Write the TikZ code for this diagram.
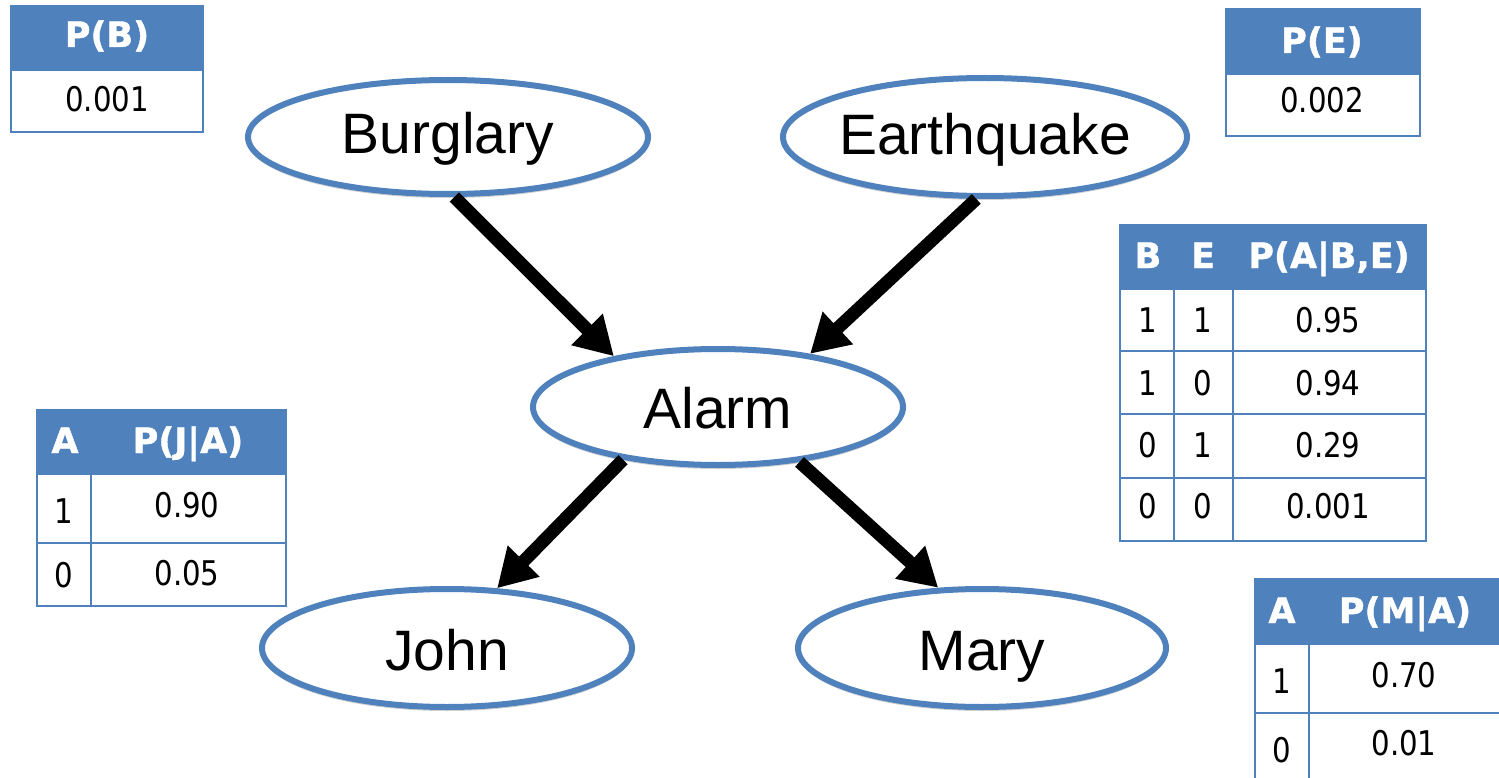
\documentclass[tikz,border=0pt]{standalone}
\usepackage{fontspec}
\setmainfont{Liberation Sans}
\newfontfamily\tabfont[FakeStretch=0.86,BoldFeatures={FakeStretch=1.0,FakeBold=1.2}]{DejaVu Sans}
\usetikzlibrary{arrows.meta,shapes.geometric,shadows}
\definecolor{obl}{HTML}{4F81BD}
\tikzset{
  bnode/.style={ellipse,draw=obl,line width=6pt,fill=white,inner sep=0pt,
    drop shadow={shadow xshift=0pt,shadow yshift=-4pt,opacity=0.18,fill=black}},
  blabel/.style={font=\fontsize{57}{60}\selectfont,inner sep=0pt,anchor=base},
  arr/.style={line width=13pt,-{Triangle[length=38pt,width=42pt]}},
  tabline/.style={draw=obl,line width=2.5pt},
  hdrfill/.style={fill=obl},
  hdr/.style={anchor=base,inner sep=0pt,text=white,font=\tabfont\bfseries\fontsize{35}{38}\selectfont},
  cell/.style={anchor=base,inner sep=0pt,text=black,font=\tabfont\fontsize{34}{40}\selectfont}
}
\begin{document}
\begin{tikzpicture}[x=1pt,y=-1pt]
\useasboundingbox[fill=white] (0,0) rectangle (1499,778);
\clip (0,0) rectangle (1499,778);

% ---------- nodes ----------
\node[bnode,minimum width=400pt,minimum height=114pt] (burg) at (448,137) {};
\node[blabel] (burgT) at (448,154) {Burglary};
\node[bnode,minimum width=404pt,minimum height=118pt] (earth) at (985,137) {};
\node[blabel] (earthT) at (985,155) {Earthquake};
\node[bnode,minimum width=370pt,minimum height=116pt] (alarm) at (718,407) {};
\node[blabel] (alarmT) at (718,428) {Alarm};
\node[bnode,minimum width=370pt,minimum height=118pt] (john) at (447,648) {};
\node[blabel] (johnT) at (447,670) {John};
\node[bnode,minimum width=368pt,minimum height=118pt] (mary) at (982,648) {};
\node[blabel] (maryT) at (982,670) {Mary};

% ---------- arrows ----------
\draw[arr] (burg.-84) -- (alarm.154);
\draw[arr] (earth.-98) -- (alarm.30);
\draw[arr] (alarm.209) -- (john.50);
\draw[arr] (alarm.-34) -- (mary.126);

% ---------- P(B) ----------
\fill[hdrfill] (11,6) rectangle (203,70);
\draw[tabline] (11,6) rectangle (203,132);
\draw[tabline] (11,70) -- (203,70);
\node[hdr] (pbH) at (107,47) {P(B)};
\node[cell] (pbV) at (107,112) {0.001};

% ---------- P(E) ----------
\fill[hdrfill] (1226,9) rectangle (1420,74);
\draw[tabline] (1226,9) rectangle (1420,136);
\draw[tabline] (1226,74) -- (1420,74);
\node[hdr] (peH) at (1322,53) {P(E)};
\node[cell] (peV) at (1322,113) {0.002};

% ---------- P(A|B,E) ----------
\fill[hdrfill] (1120,225) rectangle (1426,289);
\draw[tabline] (1120,225) rectangle (1426,541);
\foreach \yy in {289,351,414,478} \draw[tabline] (1120,\yy) -- (1426,\yy);
\draw[tabline] (1174,289) -- (1174,541);
\draw[tabline] (1233,289) -- (1233,541);
\node[hdr] (paH1) at (1148,268) {B};
\node[hdr] (paH2) at (1203,268) {E};
\node[hdr] (paH3) at (1329,268) {P(A|B,E)};
\node[cell] (pa11) at (1148,332) {1};
\node[cell] (pa12) at (1203,332) {1};
\node[cell] (pa13) at (1328,332) {0.95};
\node[cell] (pa21) at (1148,395) {1};
\node[cell] (pa22) at (1203,395) {0};
\node[cell] (pa23) at (1328,395) {0.94};
\node[cell] (pa31) at (1148,457) {0};
\node[cell] (pa32) at (1203,457) {1};
\node[cell] (pa33) at (1328,457) {0.29};
\node[cell] (pa41) at (1148,518) {0};
\node[cell] (pa42) at (1203,518) {0};
\node[cell] (pa43) at (1328,518) {0.001};

% ---------- P(J|A) ----------
\fill[hdrfill] (37,410) rectangle (286,474);
\draw[tabline] (37,410) rectangle (286,606);
\draw[tabline] (37,474) -- (286,474);
\draw[tabline] (37,543) -- (286,543);
\draw[tabline] (91,474) -- (91,606);
\node[hdr] (pjH1) at (65,453) {A};
\node[hdr] (pjH2) at (188,453) {P(J|A)};
\node[cell] (pj11) at (64,523) {1};
\node[cell] (pj12) at (187,517) {0.90};
\node[cell] (pj21) at (64,587) {0};
\node[cell] (pj22) at (187,585) {0.05};

% ---------- P(M|A) ----------
\fill[hdrfill] (1255,579) rectangle (1502,644);
\draw[tabline] (1255,579) rectangle (1502,790);
\draw[tabline] (1255,644) -- (1502,644);
\draw[tabline] (1255,713) -- (1502,713);
\draw[tabline] (1309,644) -- (1309,790);
\node[hdr] (pmH1) at (1282,623) {A};
\node[hdr] (pmH2) at (1405,623) {P(M|A)};
\node[cell] (pm11) at (1282,693) {1};
\node[cell] (pm12) at (1404,687) {0.70};
\node[cell] (pm21) at (1282,762) {0};
\node[cell] (pm22) at (1404,755) {0.01};
\end{tikzpicture}
\end{document}
